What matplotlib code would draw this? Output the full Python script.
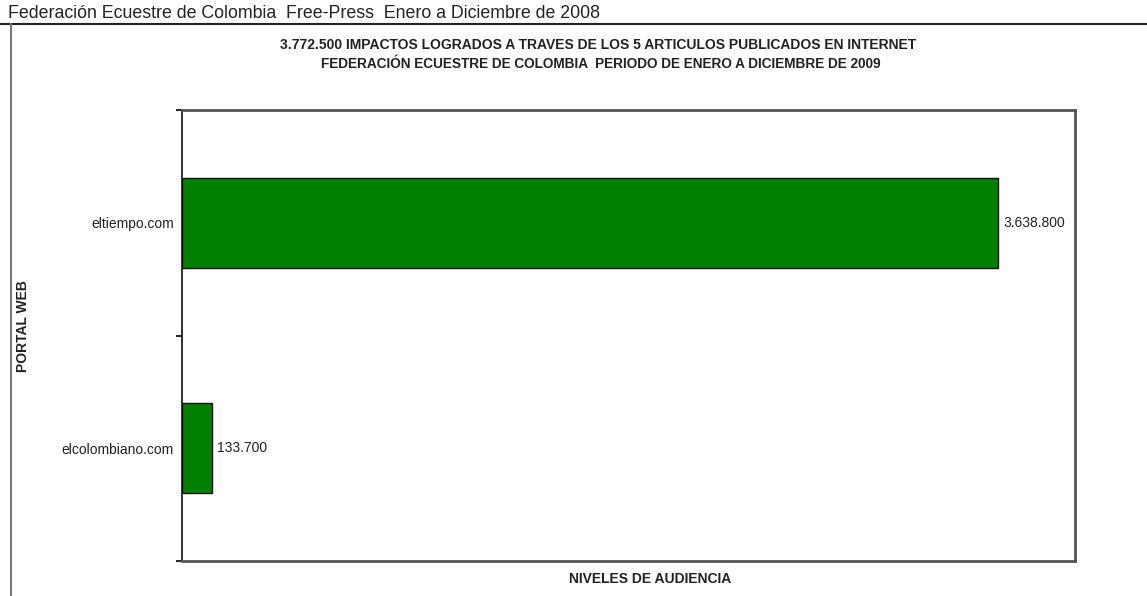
import matplotlib.pyplot as plt
from matplotlib.lines import Line2D

portales = ['eltiempo.com', 'elcolombiano.com']
impactos = [3638800, 133700]
etiquetas = ['3.638.800', '133.700']

W, H = 1147, 596
fig = plt.figure(figsize=(W / 100, H / 100), dpi=100)
plt.rcParams['font.family'] = ['Liberation Sans', 'DejaVu Sans']

# marco exterior
fig.add_artist(Line2D([0, 1], [1 - 24 / H, 1 - 24 / H], color='#222222', lw=1.5))
fig.add_artist(Line2D([11 / W, 11 / W], [0, 1 - 24 / H], color='#777777', lw=1.5))
fig.text(8 / W, 1 - 13 / H, 'Federación Ecuestre de Colombia  Free-Press  Enero a Diciembre de 2008',
         fontsize=12.8, va='center', ha='left', color='#222222')

ax = fig.add_axes([182 / W, 1 - 561 / H, (1075 - 182) / W, (561 - 110) / H])
ypos = [1.5, 0.5]
ax.barh(ypos, impactos, height=0.4, color='#007F00', edgecolor='#111111', lw=1)
for y, v, t in zip(ypos, impactos, etiquetas):
    ax.text(v + 22000, y, t, va='center', ha='left', fontsize=10, color='#222222')

ax.set_xlim(0, 3980000)
ax.set_ylim(0, 2)
ax.set_xticks([])
ax.set_yticks([0, 1, 2])
ax.set_yticklabels([])
ax.set_yticks(ypos, minor=True)
ax.set_yticklabels(portales, minor=True, fontsize=10, color='#222222')
ax.tick_params(axis='y', which='major', length=4, width=1.2, direction='out')
ax.tick_params(axis='y', which='minor', length=0, pad=6)
for s in ['top', 'right', 'bottom']:
    ax.spines[s].set_color('#555555')
    ax.spines[s].set_linewidth(2)
ax.spines['left'].set_color('#111111')
ax.spines['left'].set_linewidth(1.2)

fig.text(598 / W, 1 - 45 / H, '3.772.500 IMPACTOS LOGRADOS A TRAVES DE LOS 5 ARTICULOS PUBLICADOS EN INTERNET',
         ha='center', va='center', fontsize=10, fontweight='bold', color='#222222')
fig.text(601 / W, 1 - 64 / H, 'FEDERACIÓN ECUESTRE DE COLOMBIA  PERIODO DE ENERO A DICIEMBRE DE 2009',
         ha='center', va='center', fontsize=9.8, fontweight='bold', color='#222222')
fig.text(650 / W, 1 - 579 / H, 'NIVELES DE AUDIENCIA', ha='center', va='center',
         fontsize=10, fontweight='bold', color='#222222')
fig.text(23 / W, 1 - 326 / H, 'PORTAL WEB', ha='center', va='center', rotation=90,
         fontsize=10, fontweight='bold', color='#222222')

fig.savefig('out.png', dpi=100)
